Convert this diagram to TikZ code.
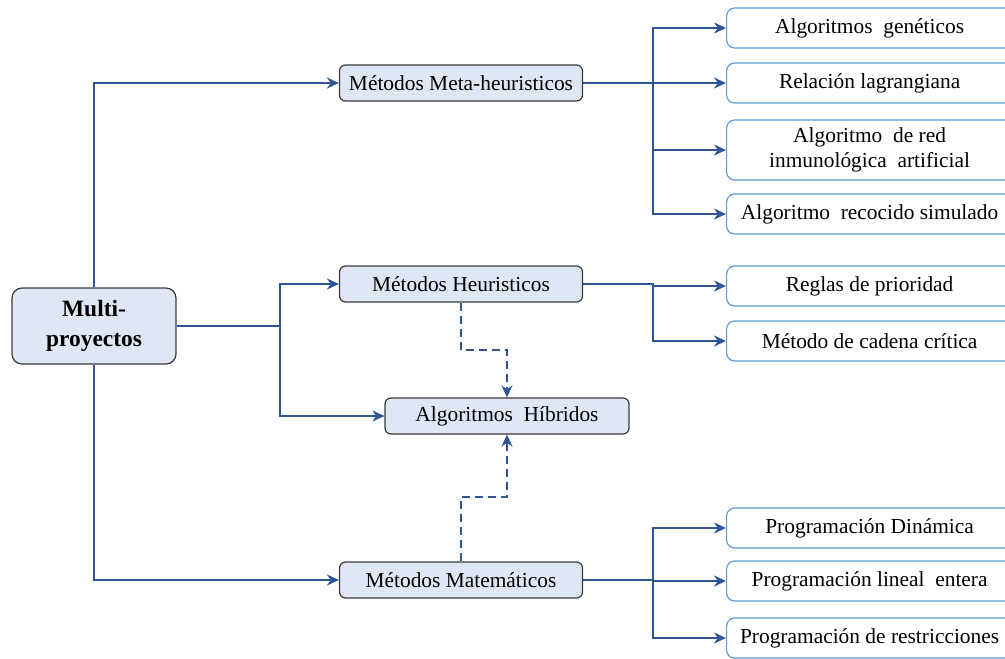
\documentclass[tikz,border=0pt]{standalone}
\usepackage{fontspec}
\setmainfont{Liberation Serif}
\RequirePackage{xcolor}
\usetikzlibrary{calc}
\usetikzlibrary{positioning}
\usetikzlibrary{arrows.meta}

\definecolor{boxfill}{HTML}{DFE7F5}
\definecolor{boxline}{HTML}{3A3A3A}
\definecolor{linkblue}{HTML}{2F5597}
\definecolor{leafblue}{HTML}{5B9BD5}

\tikzset{
  method/.style={draw=boxline, fill=boxfill, rounded corners=3pt, line width=0.6pt,
    minimum width=121.5pt, minimum height=18pt, inner sep=1pt,
    font=\fontsize{10.7}{12.5}\selectfont},
  leaf/.style={draw=leafblue, fill=white, rounded corners=4pt, line width=0.6pt,
    anchor=west, minimum width=143pt, minimum height=20pt, inner sep=1pt,
    align=center, font=\fontsize{10.7}{12.5}\selectfont},
  link/.style={draw=linkblue, line width=1.1pt, -{Stealth[length=6pt,width=5.5pt]}},
  dashlink/.style={link, dashed, dash pattern=on 4pt off 2.5pt},
}

\begin{document}
\begin{tikzpicture}[x=0.5pt, y=-0.5pt]
  \useasboundingbox (0,0) rectangle (1005,658);

  \node [method, minimum width=82pt, minimum height=38pt, rounded corners=5pt,
    align=center, font=\fontsize{11.7}{15}\selectfont\bfseries] (multi) at (94,326)
    {Multi-\\proyectos};

  \node [method] (meta) at (461,83) {Métodos Meta-heuristicos};
  \node [method] (heur) at (461,284) {Métodos Heuristicos};
  \node [method, minimum width=122pt] (hib) at (507,416) {Algoritmos\ \ Híbridos};
  \node [method] (mat) at (461,580) {Métodos Matemáticos};

  % leaves, cut off at the right edge
  \node [leaf] (ag) at (726,28) {Algoritmos\ \ genéticos};
  \node [leaf] (rl) at (726,83) {Relación lagrangiana};
  \node [leaf, minimum height=30pt] (ri) at (726,150) {Algoritmo\ \ de red\\inmunológica\ \ artificial};
  \node [leaf] (rs) at (726,214) {Algoritmo\ \ recocido simulado};
  \node [leaf] (rp) at (726,286) {Reglas de prioridad};
  \node [leaf] (cc) at (726,341) {Método de cadena crítica};
  \node [leaf] (pd) at (726,528) {Programación Dinámica};
  \node [leaf] (pl) at (726,581) {Programación lineal\ \ entera};
  \node [leaf] (pr) at (726,638) {Programación de restricciones};

  \coordinate (mc) at (280,326);
  \coordinate (mj) at (653,83);
  \coordinate (hj) at (653,284);
  \coordinate (tj) at (653,580);
  \coordinate (hd) at (484,350);
  \coordinate (md) at (484,497);

  \draw [link] (multi.north) |- (meta.west);
  \draw [link] (multi.east) -- (mc) |- (heur.west);
  \draw [link] (mc) |- (hib.west);
  \draw [link] (multi.south) |- (mat.west);

  \draw [link] (meta.east) -- (mj) |- (ag.west);
  \draw [link] (mj) -- (rl.west);
  \draw [link] (mj) |- (ri.west);
  \draw [link] (mj) |- (rs.west);

  \draw [link] (heur.east) -- (hj) |- (rp.west);
  \draw [link] (hj) |- (cc.west);

  \draw [link] (mat.east) -- (tj) |- (pd.west);
  \draw [link] (tj) |- (pl.west);
  \draw [link] (tj) |- (pr.west);

  \draw [dashlink] (heur.south) |- (hd) -| (hib.north);
  \draw [dashlink] (mat.north) |- (md) -| (hib.south);
\end{tikzpicture}
\end{document}
